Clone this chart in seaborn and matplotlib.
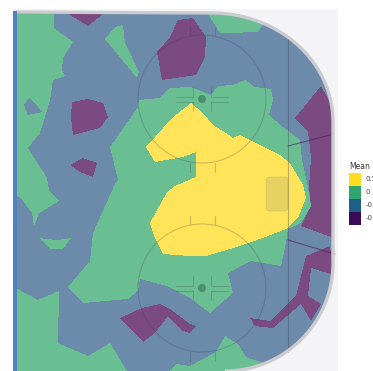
import numpy as np
import matplotlib
matplotlib.use("Agg")
import matplotlib.pyplot as plt
from matplotlib.colors import ListedColormap, BoundaryNorm
from matplotlib.patches import Ellipse, Rectangle, Patch, FancyBboxPatch
from matplotlib.path import Path
import seaborn as sns

# Mean levels and their labels (legend text is cut by the right figure edge in the source)
level_values = [-0.5, -0.25, 0.0, 0.5]
legend_labels = ["0.50", "0", "-0.25", "-0.50"]
legend_colors = ["#FFDD1F", "#2FA56F", "#1F5E85", "#3B0A56"]
region_colors = ["#7A4A80", "#6C8AAA", "#6ABF92", "#FFE45A"]

# Regions of equal mean (outline points in picture units)
green_left = [(16,14),(54,14),(54,28),(73,42),(63,58),(62,70),(65,76),(53,80),(50,100),(45,117),(40,133),(28,148),(47,178),(49,190),(59,201),(39,213),(34,226),(32,213),(20,197),(16,196)]
blue_island = [(29,98),(24,105),(28,115),(42,112),(35,103)]
green_tri = [(115,27),(105,39),(137,78),(139,72),(125,43),(123,25)]
green_small = [(39,238),(50,249),(63,249),(71,238),(57,240)]
green_center = [(139,100),(160,98),(170,88),(191,87),(211,95),(218,86),(233,85),(245,80),(255,87),(271,89),(273,100),(269,115),(283,127),(300,140),(302,160),(308,187),(311,206),(301,223),(288,229),(285,248),(281,266),(263,263),(251,261),(228,273),(233,293),(210,313),(190,298),(167,286),(140,279),(138,291),(128,299),(83,303),(68,287),(90,261),(93,233),(115,184),(118,180),(110,147),(138,107)]
green_bl = [(16,288),(38,300),(59,291),(58,343),(88,356),(110,343),(127,371),(16,371)]
green_bc = [(170,371),(176,364),(190,366),(216,352),(225,336),(238,344),(246,357),(263,363),(250,371)]
green_top = [(208,14),(220,33),(228,33),(258,32),(263,25),(246,14)]
purple_a = [(68,14),(88,26),(103,14)]
purple_b = [(72,102),(88,99),(103,103),(108,117),(100,128),(73,135),(71,117)]
purple_c = [(70,165),(83,158),(97,163),(93,177),(80,172)]
purple_d = [(178,20),(170,37),(157,52),(162,80),(196,75),(205,57),(206,37),(193,18)]
purple_e = [(321,86),(295,118),(308,132),(311,157),(309,187),(311,206),(301,226),(334,238),(334,110)]
purple_f = [(306,256),(330,246),(334,275),(311,268),(308,296),(321,304),(311,321),(301,304),(273,328),(255,326),(250,318),(270,321),(296,296),(303,268)]
purple_g = [(120,318),(142,308),(160,304),(170,309),(190,324),(196,326),(190,333),(183,331),(168,316),(155,333),(143,342)]
yellow = [(191,103),(203,113),(213,125),(226,133),(233,138),(240,135),(260,145),(280,155),(290,163),(303,185),(306,198),(298,218),(286,229),(268,236),(246,244),(230,249),(206,256),(190,256),(163,254),(155,238),(150,223),(167,192),(175,186),(196,177),(196,152),(183,157),(155,162),(146,147),(172,118)]

layers = [(green_left, 0.0), (blue_island, -0.25), (green_tri, 0.0), (green_small, 0.0),
          (green_center, 0.0), (green_bl, 0.0), (green_bc, 0.0), (green_top, 0.0),
          (purple_a, -0.5), (purple_b, -0.5), (purple_c, -0.5), (purple_d, -0.5),
          (purple_e, -0.5), (purple_f, -0.5), (purple_g, -0.5), (yellow, 0.5)]

W, H = 373, 371
xx, yy = np.meshgrid(np.arange(W) + 0.5, np.arange(H) + 0.5)
pts = np.column_stack([xx.ravel(), yy.ravel()])

grid = np.full((H, W), -0.25)
for poly, val in layers:
    grid[Path(poly).contains_points(pts).reshape(H, W)] = val

# rink outline: straight left side, rounded right corners
L, T, R, B = 14.0, 13.0, 333.0, 371.0
cxt, cyt, cxb, cyb = 212.0, 122.0, 225.0, 263.0
t = np.linspace(0, np.pi / 2, 60)
arc_top = np.column_stack([cxt + (R - cxt) * np.sin(t), cyt - (cyt - T) * np.cos(t)])
arc_bot = np.column_stack([cxb + (R - cxb) * np.cos(t), cyb + (B - cyb) * np.sin(t)])
outline = np.vstack([[[L, T]], arc_top, arc_bot, [[L, B]]])
inside = Path(outline).contains_points(pts).reshape(H, W)

sns.set_theme(style="white")
fig = plt.figure(figsize=(W / 100, H / 100), dpi=100)
ax = fig.add_axes([0, 0, 1, 1])

cmap = ListedColormap(region_colors)
norm = BoundaryNorm([-0.75, -0.4, -0.1, 0.25, 0.75], cmap.N)
sns.heatmap(grid, mask=~inside, cmap=cmap, norm=norm, cbar=False,
            xticklabels=False, yticklabels=False, ax=ax, rasterized=True)
ax.set_xlim(0, W)
ax.set_ylim(H, 0)
ax.set_axis_off()

# light surround behind the rink
ax.add_patch(Rectangle((14, 9), 324, 362, fc="#F4F4F7", ec="none", zorder=0))

# boards and left bar
ax.plot(np.r_[16, outline[1:-1, 0]], np.r_[T - 1, outline[1:-1, 1]], color="#CBCBD0", lw=2.4, zorder=4, solid_capstyle="butt")
ax.add_patch(Rectangle((12.5, 11), 4.0, 360, fc="#4F82BE", ec="none", zorder=5))

lc = "#3C3C50"
la = 0.25
lw = 0.8
for cy in (99, 288):
    ax.add_patch(Ellipse((202, cy), 128, 128, fc="none", ec=lc, alpha=la, lw=lw, zorder=3))
    ax.add_patch(Ellipse((202, cy), 8, 8, fc="#3E7A62", ec="none", alpha=0.7, zorder=3))
    for sx in (-1, 1):
        for dy in (-2.5, 2.5):
            ax.plot([202 + sx * 9, 202 + sx * 26], [cy + dy, cy + dy], color=lc, alpha=la, lw=lw, zorder=3)
        ax.plot([202 + sx * 9] * 2, [cy - 12, cy - 3], color=lc, alpha=la, lw=lw, zorder=3)
        ax.plot([202 + sx * 9] * 2, [cy + 3, cy + 12], color=lc, alpha=la, lw=lw, zorder=3)
        ax.plot([202 + sx * 12.5] * 2, [cy - 72, cy - 64], color=lc, alpha=la, lw=lw, zorder=3)
        ax.plot([202 + sx * 12.5] * 2, [cy + 64, cy + 73], color=lc, alpha=la, lw=lw, zorder=3)

# goal line, trapezoid and crease
ax.plot([288, 288], [37, 352], color=lc, alpha=la + 0.1, lw=lw, zorder=3)
ax.plot([288, 334], [146, 134], color="#4A2060", alpha=0.6, lw=lw, zorder=3)
ax.plot([288, 335], [240, 254], color="#4A2060", alpha=0.6, lw=lw, zorder=3)
ax.add_patch(FancyBboxPatch((266, 177), 22, 34, boxstyle="round,pad=0,rounding_size=4",
                            fc="#B4B46E", ec="#9A9A66", alpha=0.35, lw=0.5, zorder=3))

handles = [Patch(fc=c, ec="none") for c in legend_colors]
leg = ax.legend(handles, legend_labels, title="Mean", loc="upper left",
                bbox_to_anchor=(347.5 / W, 1 - 161 / H), frameon=False, fontsize=5,
                title_fontsize=5.5, handlelength=1.75, handleheight=2.5, labelspacing=0,
                handletextpad=0.7, borderpad=0.2, borderaxespad=0, alignment="left")
leg._legend_box.sep = 1
for text in leg.get_texts():
    text.set_color("#444444")
leg.get_title().set_color("#333333")

fig.savefig("out.png", dpi=100)
